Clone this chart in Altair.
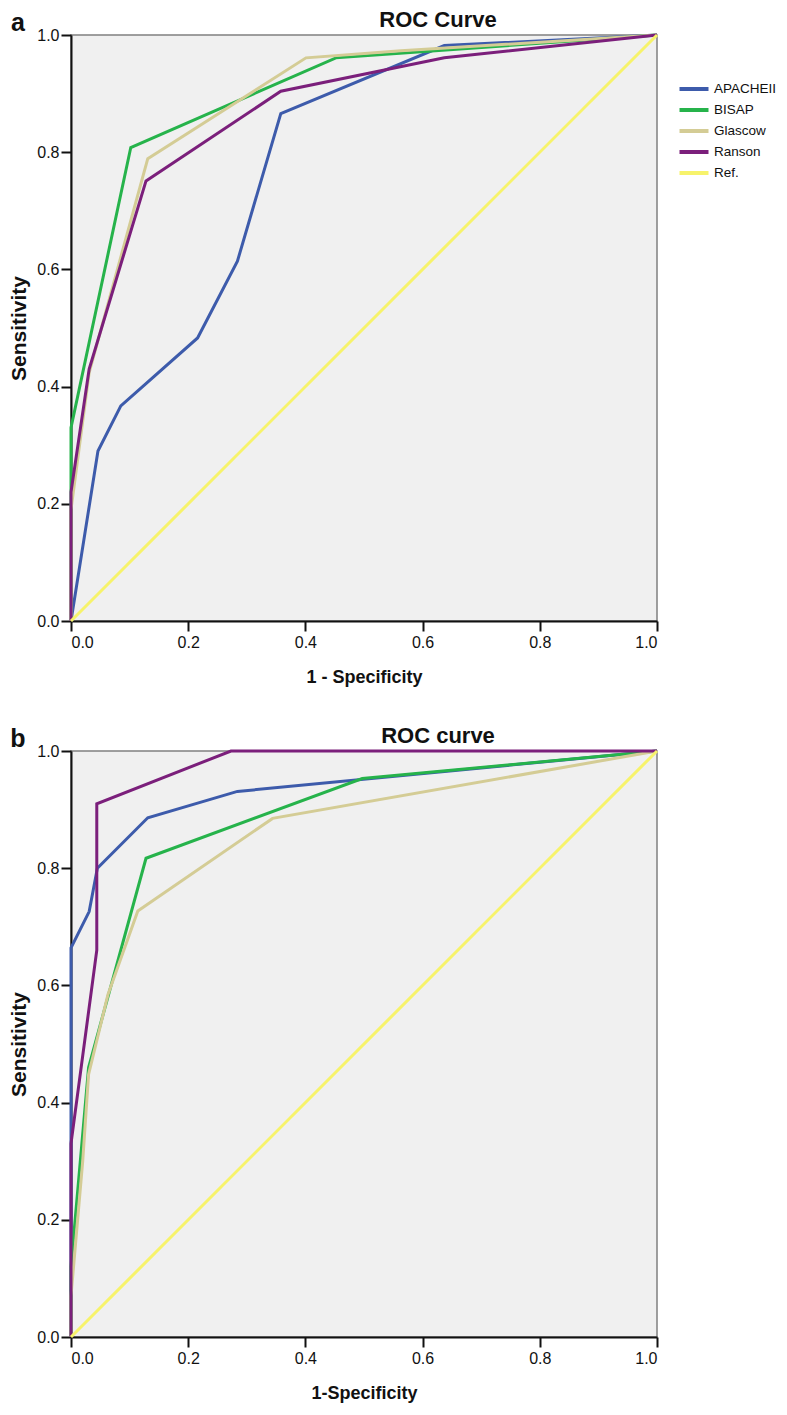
import altair as alt
import pandas as pd

series = ["APACHEII", "BISAP", "Glascow", "Ranson", "Ref."]
colors = ["#3d5bab", "#26b34b", "#d4cc95", "#7b1f7b", "#f7f36b"]
ticks = [0.0, 0.2, 0.4, 0.6, 0.8, 1.0]

# Panel a (1 - Specificity, Sensitivity)
a_apache_x = [0.0, 0.046, 0.085, 0.216, 0.284, 0.358, 0.637, 1.0]
a_apache_y = [0.0, 0.29, 0.367, 0.483, 0.614, 0.866, 0.982, 1.0]
a_bisap_x = [0.0, 0.0, 0.102, 0.452, 1.0]
a_bisap_y = [0.0, 0.33, 0.808, 0.961, 1.0]
a_glasgow_x = [0.0, 0.0, 0.031, 0.131, 0.401, 0.563, 1.0]
a_glasgow_y = [0.0, 0.19, 0.424, 0.789, 0.961, 0.973, 1.0]
a_ranson_x = [0.0, 0.0, 0.031, 0.128, 0.358, 0.637, 1.0]
a_ranson_y = [0.0, 0.22, 0.43, 0.751, 0.904, 0.961, 1.0]
a_ref_x = [0.0, 1.0]
a_ref_y = [0.0, 1.0]

# Panel b
b_apache_x = [0.0, 0.0, 0.031, 0.045, 0.131, 0.284, 1.0]
b_apache_y = [0.0, 0.664, 0.726, 0.80, 0.886, 0.931, 1.0]
b_bisap_x = [0.0, 0.0, 0.03, 0.128, 0.497, 1.0]
b_bisap_y = [0.0, 0.12, 0.46, 0.817, 0.953, 1.0]
b_glasgow_x = [0.0, 0.0, 0.02, 0.03, 0.063, 0.114, 0.344, 1.0]
b_glasgow_y = [0.0, 0.07, 0.30, 0.448, 0.584, 0.727, 0.885, 1.0]
b_ranson_x = [0.0, 0.0, 0.044, 0.044, 0.273, 1.0]
b_ranson_y = [0.0, 0.33, 0.66, 0.91, 1.0, 1.0]
b_ref_x = [0.0, 1.0]
b_ref_y = [0.0, 1.0]


def frame(curves):
    rows = []
    for name, (xs, ys) in zip(series, curves):
        for i, (x, y) in enumerate(zip(xs, ys)):
            rows.append({"series": name, "fpr": x, "tpr": y, "idx": i})
    return pd.DataFrame(rows)


def panel(df, title, xtitle, letter):
    lines = alt.Chart(df).mark_line(strokeWidth=3, clip=False).encode(
        x=alt.X("fpr:Q", scale=alt.Scale(domain=[0, 1], nice=False, zero=False),
                axis=alt.Axis(title=xtitle, values=ticks, format=".1f", titlePadding=18,
                              titleFontSize=18)),
        y=alt.Y("tpr:Q", scale=alt.Scale(domain=[0, 1], nice=False, zero=False),
                axis=alt.Axis(title="Sensitivity", values=ticks, format=".1f", titlePadding=7,
                              labelPadding=2, titleFontSize=21)),
        color=alt.Color("series:N", scale=alt.Scale(domain=series, range=colors),
                        legend=alt.Legend(title=None, orient="none", legendX=611, legendY=42,
                                          padding=0, symbolType="M-1.45,0H1.45",
                                          symbolStrokeWidth=4, symbolSize=400,
                                          labelFontSize=13.5, labelFont="Liberation Sans",
                                          labelColor="#111", labelOffset=8, rowPadding=1)),
        order=alt.Order("idx:Q"),
    )
    lab = alt.Chart(pd.DataFrame({"t": [letter]})).mark_text(
        fontSize=25, fontWeight="bold", font="Liberation Sans", align="center",
        baseline="middle", color="#111"
    ).encode(x=alt.value(-53), y=alt.value(-12), text="t:N")
    ttl = alt.Chart(pd.DataFrame({"t": [title]})).mark_text(
        fontSize=22, fontWeight="bold", font="Liberation Sans", align="center",
        baseline="middle", color="#111"
    ).encode(x=alt.value(367), y=alt.value(-15), text="t:N")
    return alt.layer(lines, lab, ttl).properties(width=586, height=586)


dfa = frame([(a_apache_x, a_apache_y), (a_bisap_x, a_bisap_y), (a_glasgow_x, a_glasgow_y),
             (a_ranson_x, a_ranson_y), (a_ref_x, a_ref_y)])
dfb = frame([(b_apache_x, b_apache_y), (b_bisap_x, b_bisap_y), (b_glasgow_x, b_glasgow_y),
             (b_ranson_x, b_ranson_y), (b_ref_x, b_ref_y)])

chart = alt.vconcat(
    panel(dfa, "ROC Curve", "1 - Specificity", "a"),
    panel(dfb, "ROC curve", "1-Specificity", "b"),
    spacing=37,
).properties(
    padding={"left": 0, "top": 0, "right": 0, "bottom": 0},
    background="white",
).configure_view(
    fill="#f0f0f0", stroke="#808080", strokeWidth=1.5
).configure_axis(
    grid=False, domainColor="#111", domainWidth=2, tickColor="#111", tickWidth=2, tickSize=10,
    labelFont="Liberation Sans", labelFontSize=16, labelColor="#111", labelPadding=3,
    titleFont="Liberation Sans", titleFontWeight="bold", titleColor="#111",
)

chart.save("out.html", embed_options={"renderer": "svg", "actions": False})
